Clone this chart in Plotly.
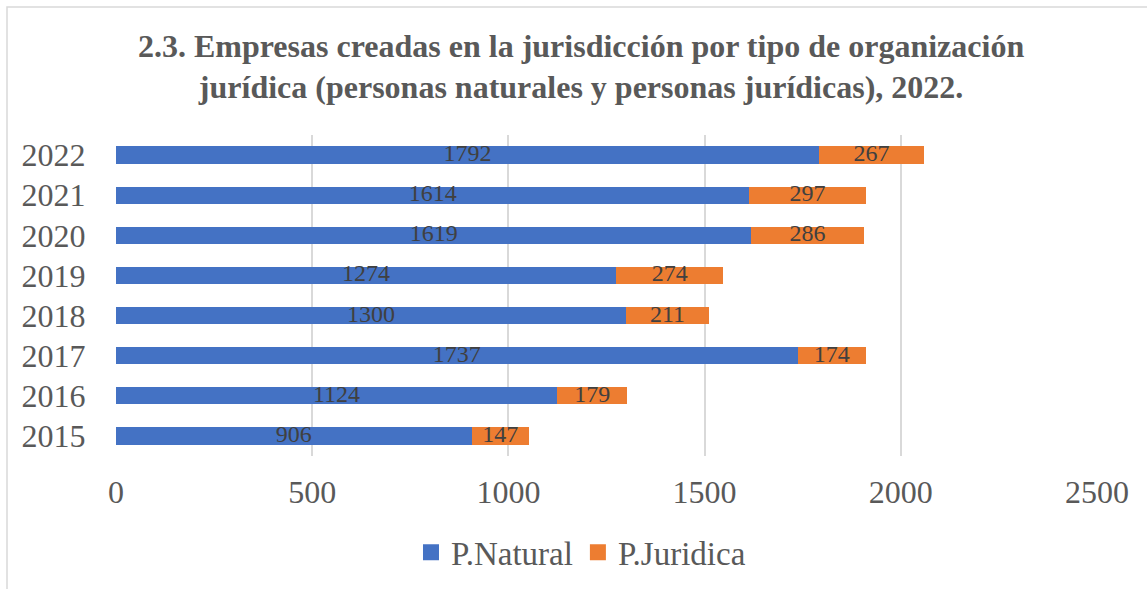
import plotly.graph_objects as go

years = ["2015", "2016", "2017", "2018", "2019", "2020", "2021", "2022"]
natural = [906, 1124, 1737, 1300, 1274, 1619, 1614, 1792]
juridica = [147, 179, 174, 211, 274, 286, 297, 267]
x_ticks = [0, 500, 1000, 1500, 2000, 2500]

BLUE = "#4472C4"
ORANGE = "#ED7D31"
SERIF = "Liberation Serif"

fig = go.Figure()
fig.add_trace(go.Bar(y=years, x=natural, orientation="h", name="P.Natural", showlegend=False,
                     marker=dict(color=BLUE, line=dict(width=0)), hoverinfo="x"))
fig.add_trace(go.Bar(y=years, x=juridica, orientation="h", name="P.Juridica", showlegend=False,
                     marker=dict(color=ORANGE, line=dict(width=0)), hoverinfo="x"))

# legend entries with square swatches
fig.add_trace(go.Scatter(x=[None], y=[None], mode="markers", name="P.Natural",
                         marker=dict(symbol="square", size=16, color=BLUE)))
fig.add_trace(go.Scatter(x=[None], y=[None], mode="markers", name="P.Juridica",
                         marker=dict(symbol="square", size=16, color=ORANGE)))

# data labels, centred on each segment
nat_mid = [n / 2 for n in natural]
jur_mid = [n + j / 2 for n, j in zip(natural, juridica)]
fig.add_trace(go.Scatter(y=years, x=nat_mid, mode="text", text=[str(v) for v in natural],
                         textposition="middle center", showlegend=False, hoverinfo="skip",
                         textfont=dict(family=SERIF, size=24, color="#404040")))
fig.add_trace(go.Scatter(y=years, x=jur_mid, mode="text", text=[str(v) for v in juridica],
                         textposition="middle center", showlegend=False, hoverinfo="skip",
                         textfont=dict(family=SERIF, size=24, color="#404040")))

fig.update_layout(
    template="none",
    width=1147, height=589,
    margin=dict(l=116, r=50, t=135, b=133, autoexpand=False),
    paper_bgcolor="white", plot_bgcolor="white",
    barmode="stack", bargap=0.57,
    title=dict(text="<b>2.3. Empresas creadas en la jurisdicción por tipo de organización<br>"
                    "jurídica (personas naturales y personas jurídicas), 2022.</b>",
               x=0.5066, xanchor="center", xref="container",
               y=0.904, yanchor="top", yref="container",
               font=dict(family=SERIF, size=32, color="#595959")),
    xaxis=dict(range=[0, 2500], tickvals=x_ticks, showgrid=True, gridcolor="#D9D9D9",
               gridwidth=1.5, zeroline=False, showline=False, automargin=False,
               ticks="outside", ticklen=8, tickcolor="rgba(0,0,0,0)",
               tickfont=dict(family=SERIF, size=32, color="#595959")),
    yaxis=dict(type="category", categoryorder="array", categoryarray=years,
               showgrid=False, zeroline=False, showline=False, automargin=False,
               ticks="outside", ticklen=23, tickcolor="rgba(0,0,0,0)",
               tickfont=dict(family=SERIF, size=32, color="#595959")),
    legend=dict(orientation="h", traceorder="normal", x=0.474, xanchor="center",
                y=-0.30, yanchor="middle",
                font=dict(family=SERIF, size=33, color="#595959"),
                bgcolor="rgba(0,0,0,0)"),
    showlegend=True,
)

# outer chart border (partially cropped in the reference)
fig.add_shape(type="rect", xref="paper", yref="paper",
              x0=(7 - 116) / 981, x1=1.3, y0=-1.0, y1=(455.7 - 7) / 320.7,
              line=dict(color="#D9D9D9", width=1.5), fillcolor="rgba(0,0,0,0)", layer="below")

fig.write_html("out.html", config={"displayModeBar": False},
               post_script="document.body.style.margin='0';document.body.style.overflow='hidden';")
